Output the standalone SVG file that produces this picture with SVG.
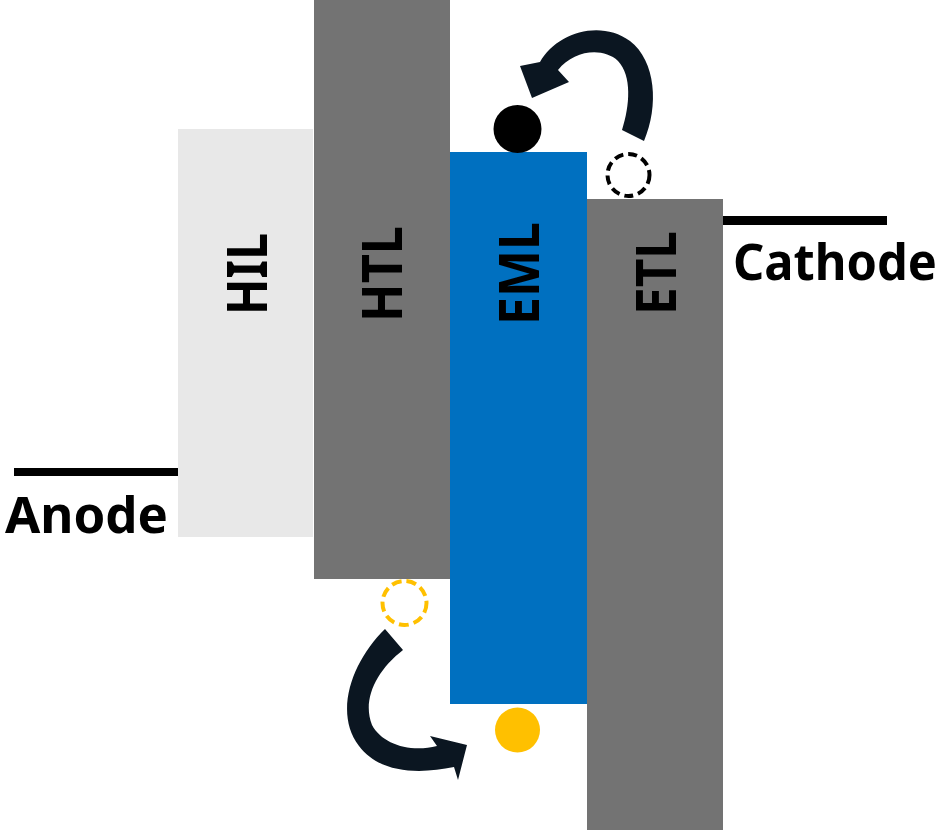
<svg xmlns="http://www.w3.org/2000/svg" width="945" height="830" viewBox="0 0 945 830">
<style>
.lbl{font-family:"Noto Sans","Open Sans","Liberation Sans",sans-serif;font-weight:bold;font-size:55px;fill:#000;text-anchor:middle}
.elec{font-family:"Noto Sans","Open Sans","Liberation Sans",sans-serif;font-weight:bold;font-size:51px;fill:#000}
.arrow{fill:#0b1621}
</style>
<rect width="945" height="830" fill="#fff"/>
<g id="HIL"><rect x="178" y="129" width="135" height="408" fill="#e8e8e8"/><text class="lbl" transform="translate(267,274) rotate(-90)" textLength="82" lengthAdjust="spacingAndGlyphs">HIL</text></g>
<g id="HTL"><rect x="314" y="0" width="136" height="579" fill="#737373"/><text class="lbl" transform="translate(402,274) rotate(-90)" textLength="96" lengthAdjust="spacingAndGlyphs">HTL</text></g>
<g id="EML"><rect x="450" y="152" width="137" height="552" fill="#0070c0"/><text class="lbl" transform="translate(539,273.5) rotate(-90)" textLength="103" lengthAdjust="spacingAndGlyphs">EML</text></g>
<g id="ETL"><rect x="587" y="199" width="136" height="631" fill="#737373"/><text class="lbl" transform="translate(676,273) rotate(-90)" textLength="84" lengthAdjust="spacingAndGlyphs">ETL</text></g>
<g id="Anode"><rect x="14" y="468" width="164" height="8" fill="#000"/><text class="elec" x="5" y="533" textLength="163" lengthAdjust="spacingAndGlyphs">Anode</text></g>
<g id="Cathode"><rect x="723" y="216" width="164" height="9" fill="#000"/><text class="elec" x="733" y="280" textLength="204" lengthAdjust="spacingAndGlyphs">Cathode</text></g>
<g id="electron-filled"><circle cx="517.5" cy="129" r="24" fill="#000"/></g>
<g id="electron-empty"><circle cx="628.5" cy="175" r="21" fill="none" stroke="#000" stroke-width="4" stroke-dasharray="9 5"/></g>
<g id="hole-empty"><circle cx="404.5" cy="603" r="22" fill="none" stroke="#ffc000" stroke-width="4" stroke-dasharray="10 5"/></g>
<g id="hole-filled"><circle cx="517.5" cy="730" r="22.5" fill="#ffc000"/></g>
<g id="connectors">
<path class="arrow" d="M622,130 C630,105 632,76 618,61 C603,47 574,50 558,70 L569,82 L532,98 L520,66 L540,62 C556,33 600,19 630,41 C656,61 659,106 644,141 Z"/>
<path class="arrow" d="M385,629 C353,660 333,712 359,746 C380,774 420,774 454,767 L458,780 L467,745 L430,736 L437,746 C410,753 382,744 372,725 C362,700 376,671 403,650 Z"/>
</g>
</svg>
